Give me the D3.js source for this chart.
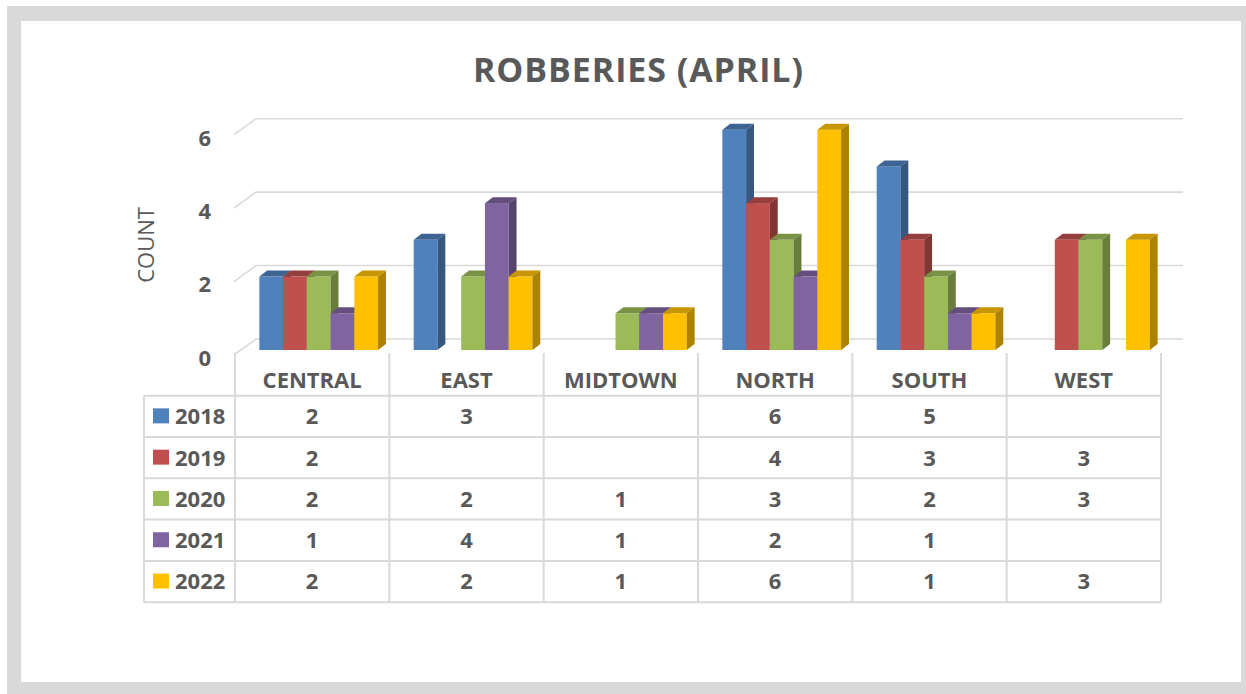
<!DOCTYPE html>
<html>
<head>
<meta charset="utf-8">
<script src="https://cdn.jsdelivr.net/npm/d3@7"></script>
<style>
  html, body { margin: 0; padding: 0; background: #fff; }
  svg text { font-family: "Open Sans", "Liberation Sans", sans-serif; fill: #595959; }
</style>
</head>
<body>
<svg id="chart" width="1246" height="694"></svg>
<script>
var regions = ["CENTRAL", "EAST", "MIDTOWN", "NORTH", "SOUTH", "WEST"];
var years = ["2018", "2019", "2020", "2021", "2022"];
var colors = ["#4F81BD", "#C0504D", "#9BBB59", "#8064A2", "#FFC000"];
var yTicks = [0, 2, 4, 6];

var v2018 = [2, 3, null, 6, 5, null];
var v2019 = [2, null, null, 4, 3, 3];
var v2020 = [2, 2, 1, 3, 2, 3];
var v2021 = [1, 4, 1, 2, 1, null];
var v2022 = [2, 2, 1, 6, 1, 3];
var series = [v2018, v2019, v2020, v2021, v2022];

var svg = d3.select("#chart");

// frame
svg.append("rect").attr("x", 7).attr("y", 6).attr("width", 1239).attr("height", 688).attr("fill", "#d9d9d9");
svg.append("rect").attr("x", 21).attr("y", 21).attr("width", 1220).attr("height", 661).attr("fill", "#fff");

svg.append("text")
    .attr("x", 638).attr("y", 82)
    .attr("text-anchor", "middle")
    .attr("textLength", 330).attr("lengthAdjust", "spacing")
    .style("font-size", "34px").style("font-weight", "bold")
    .text("ROBBERIES (APRIL)");

// 3d depth: the floor goes 21px right and 16px up from front to back wall
var depthX = 21, depthY = 16;
var x = d3.scaleBand().domain(regions).range([235, 1161]);
var xs = d3.scaleBand().domain(years).range([0, x.bandwidth()]).paddingOuter(0.75);
// y on the front plane of the floor
var y = d3.scaleLinear().domain([0, 6]).range([355, 134.7]);

var grid = svg.append("g");
yTicks.forEach(function(t) {
    var yf = y(t);
    grid.append("path")
        .attr("d", "M" + (x.range()[0] - 1) + "," + yf + "L" + (x.range()[0] + depthX) + "," + (yf - depthY) +
                   "L" + (x.range()[1] + depthX + 1) + "," + (yf - depthY))
        .attr("fill", "none").attr("stroke", "#d9d9d9").attr("stroke-width", 1.6);
    svg.append("text")
        .attr("x", 211).attr("y", yf + 3)
        .attr("dy", "0.36em")
        .attr("text-anchor", "end")
        .style("font-size", "22px").style("font-weight", "bold")
        .text(t);
});

svg.append("text")
    .attr("transform", "translate(154,245) rotate(-90)")
    .attr("text-anchor", "middle")
    .style("font-size", "22px")
    .text("COUNT");

// bars sit between 5/16 and 11/16 of the floor depth
var f0 = 5 / 16, f1 = 11 / 16;
var bars = svg.append("g");
regions.forEach(function(r, ri) {
    years.forEach(function(yr, si) {
        var v = series[si][ri];
        if (v == null) return;
        var bx = x(r) + xs(yr) + depthX * f0;
        var w = xs.bandwidth();
        var yb = y(0) - depthY * f0;
        var yt = y(v) - depthY * f0;
        var dx = depthX * (f1 - f0), dy = depthY * (f1 - f0);
        var c = d3.color(colors[si]);
        bars.append("rect")
            .attr("x", bx).attr("y", yt).attr("width", w).attr("height", yb - yt)
            .attr("fill", c);
        bars.append("path")
            .attr("d", "M" + bx + "," + yt + "L" + (bx + w) + "," + yt + "L" + (bx + w + dx) + "," + (yt - dy) +
                       "L" + (bx + dx) + "," + (yt - dy) + "Z")
            .attr("fill", c.darker(0.7));
        bars.append("path")
            .attr("d", "M" + (bx + w) + "," + yt + "L" + (bx + w + dx) + "," + (yt - dy) + "L" + (bx + w + dx) + "," + (yb - dy) +
                       "L" + (bx + w) + "," + yb + "Z")
            .attr("fill", c.darker(1.1));
    });
});

// data table
var rowTop = 395.7, rowH = 41.3, legendLeft = 144;
var table = svg.append("g").attr("stroke", "#d9d9d9").attr("stroke-width", 2);
for (var i = 0; i <= years.length; i++) {
    table.append("line")
        .attr("x1", legendLeft).attr("x2", x.range()[1])
        .attr("y1", rowTop + i * rowH).attr("y2", rowTop + i * rowH);
}
table.append("line")
    .attr("x1", legendLeft).attr("x2", legendLeft)
    .attr("y1", rowTop).attr("y2", rowTop + years.length * rowH);
regions.concat([null]).forEach(function(r, i) {
    var xx = i < regions.length ? x(r) : x.range()[1];
    table.append("line")
        .attr("x1", xx).attr("x2", xx)
        .attr("y1", 353).attr("y2", rowTop + years.length * rowH);
});

regions.forEach(function(r) {
    svg.append("text")
        .attr("x", x(r) + x.bandwidth() / 2).attr("y", 380)
        .attr("dy", "0.36em")
        .attr("text-anchor", "middle")
        .style("font-size", "22px").style("font-weight", "bold")
        .text(r);
});

years.forEach(function(yr, si) {
    var cy = rowTop + si * rowH + rowH / 2;
    svg.append("rect")
        .attr("x", 153).attr("y", cy - 8).attr("width", 16).attr("height", 15)
        .attr("fill", colors[si]);
    svg.append("text")
        .attr("x", 175).attr("y", cy)
        .attr("dy", "0.36em")
        .style("font-size", "22px").style("font-weight", "bold")
        .text(yr);
    regions.forEach(function(r, ri) {
        var v = series[si][ri];
        if (v == null) return;
        svg.append("text")
            .attr("x", x(r) + x.bandwidth() / 2).attr("y", cy)
            .attr("dy", "0.36em")
            .attr("text-anchor", "middle")
            .style("font-size", "22px").style("font-weight", "bold")
            .text(v);
    });
});
</script>
</body>
</html>
